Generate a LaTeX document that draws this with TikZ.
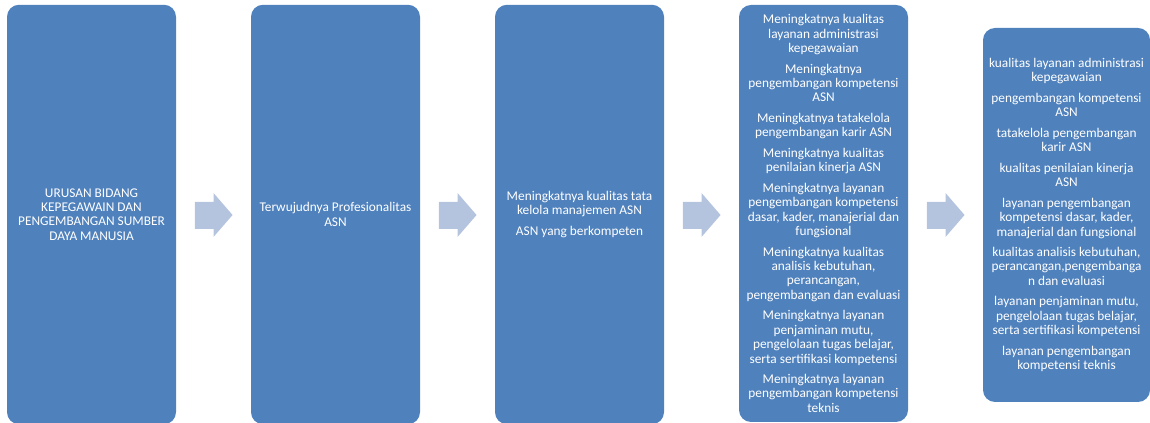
\documentclass[tikz,border=0pt]{standalone}
\usepackage{fontspec}
\setmainfont{Carlito}
\usetikzlibrary{calc}
\definecolor{boxblue}{RGB}{79,129,189}
\definecolor{arrowblue}{RGB}{180,196,222}
\tikzset{
  stage/.style={fill=boxblue, draw=none, rounded corners=9pt, text=white,
    align=center, inner sep=0pt, font=\fontsize{10}{10.8}\selectfont},
  flowarrow/.style={fill=arrowblue, draw=none}
}
% paragraph gap between items inside a box
\newcommand{\itemgap}{\\[4.6pt]}
\begin{document}
\begin{tikzpicture}[x=0.75pt, y=-0.75pt]
\useasboundingbox (0,0) rectangle (1150,423);

% stage boxes
\node[stage, minimum width=126.75pt, minimum height=314.6pt] (b1) at (91.5,214.5)
  {URUSAN BIDANG\\KEPEGAWAIN DAN\\PENGEMBANGAN SUMBER\\DAYA MANUSIA};
\node[stage, minimum width=126.75pt, minimum height=314.6pt] (b2) at (335.5,214.5)
  {Terwujudnya Profesionalitas\\ASN};
\node[stage, minimum width=126.75pt, minimum height=314.6pt] (b3) at (579.5,214.5)
  {Meningkatnya kualitas tata\\kelola manajemen ASN\itemgap ASN yang berkompeten};
\node[stage, minimum width=126.75pt, minimum height=312.75pt] (b4) at (823.5,213.5)
  {Meningkatnya kualitas\\layanan administrasi\\kepegawaian\itemgap
   Meningkatnya\\pengembangan kompetensi\\ASN\itemgap
   Meningkatnya tatakelola\\pengembangan karir ASN\itemgap
   Meningkatnya kualitas\\penilaian kinerja ASN\itemgap
   Meningkatnya layanan\\pengembangan kompetensi\\dasar, kader, manajerial dan\\fungsional\itemgap
   Meningkatnya kualitas\\analisis kebutuhan,\\perancangan,\\pengembangan dan evaluasi\itemgap
   Meningkatnya layanan\\penjaminan mutu,\\pengelolaan tugas belajar,\\serta sertifikasi kompetensi\itemgap
   Meningkatnya layanan\\pengembangan kompetensi\\teknis};
\node[stage, minimum width=125.25pt, minimum height=280.5pt] (b5) at (1066.5,215)
  {kualitas layanan administrasi\\kepegawaian\itemgap
   pengembangan kompetensi\\ASN\itemgap
   tatakelola pengembangan\\karir ASN\itemgap
   kualitas penilaian kinerja\\ASN\itemgap
   layanan pengembangan\\kompetensi dasar, kader,\\manajerial dan fungsional\itemgap
   kualitas analisis kebutuhan,\\perancangan,pengembanga\\n dan evaluasi\itemgap
   layanan penjaminan mutu,\\pengelolaan tugas belajar,\\serta sertifikasi kompetensi\itemgap
   layanan pengembangan\\kompetensi teknis};

% block arrows, centred in the gap between consecutive stages
\foreach \a/\b in {b1/b2, b2/b3, b3/b4, b4/b5}{
  \coordinate (m) at ($(\a.east)!0.5!(\b.west)$);
  \fill[flowarrow] ([xshift=-13.9pt]m |- 0,202) -- ([xshift=0pt]m |- 0,202)
    -- ([xshift=0pt]m |- 0,193) -- ([xshift=14.3pt]m |- 0,215)
    -- ([xshift=0pt]m |- 0,237) -- ([xshift=0pt]m |- 0,229)
    -- ([xshift=-13.9pt]m |- 0,229) -- cycle;
}
\end{tikzpicture}
\end{document}
